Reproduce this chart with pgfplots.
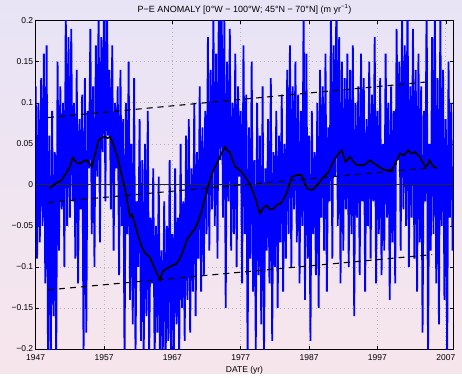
\documentclass[border=0pt]{standalone}
\usepackage{fontspec}
\setmainfont{Liberation Sans}
\usepackage{pgfplots}
\usepackage{pgfplotstable}
\pgfplotsset{compat=1.18}
\definecolor{bgtop}{RGB}{232,228,246}
\definecolor{bgbot}{RGB}{247,229,236}
\definecolor{mblue}{RGB}{0,0,255}
\pgfplotstableread{
v
0.12
-0.09
0.10
-0.07
0.13
-0.05
0.16
-0.12
0.17
-0.21
0.06
-0.23
0.09
-0.16
0.04
-0.22
0.15
-0.08
0.12
-0.03
0.10
-0.10
0.21
-0.05
0.18
-0.04
0.19
-0.02
0.10
-0.09
0.14
-0.12
0.08
-0.03
0.11
-0.21
0.13
-0.18
0.09
0.02
0.19
-0.06
0.12
-0.10
0.17
0.01
0.21
-0.07
0.18
0.04
0.22
-0.02
0.25
0.06
0.14
-0.03
0.17
-0.08
0.10
0.02
0.12
-0.11
0.14
-0.05
0.08
-0.22
0.10
-0.06
0.15
-0.14
0.05
-0.17
0.13
-0.21
-0.02
-0.10
0.08
-0.19
0.03
-0.22
0.05
-0.16
0.09
-0.21
-0.04
-0.12
0.02
-0.22
-0.05
-0.18
0.01
-0.24
-0.08
-0.20
-0.02
-0.23
-0.05
-0.19
0.03
-0.21
-0.06
-0.22
0.02
-0.17
-0.04
-0.21
0.05
-0.15
-0.02
-0.19
0.06
-0.14
0.08
-0.18
0.02
-0.13
0.10
-0.16
0.04
-0.09
0.12
-0.13
0.07
-0.11
0.09
-0.06
0.18
-0.08
0.14
-0.03
0.21
-0.05
0.16
-0.09
0.24
0.03
0.23
-0.04
0.20
-0.15
0.15
-0.02
0.19
-0.08
0.10
-0.06
0.16
-0.10
0.12
0.01
0.09
-0.12
0.17
-0.06
0.11
-0.21
0.07
-0.09
0.15
-0.13
0.03
-0.20
0.10
-0.11
0.06
-0.17
0.12
-0.21
0.02
-0.08
0.08
-0.12
0.13
-0.19
0.04
-0.10
0.09
-0.15
0.06
-0.07
0.11
-0.13
0.05
-0.09
0.14
-0.06
0.17
-0.10
0.12
-0.03
0.15
-0.07
0.11
-0.12
0.09
-0.05
0.22
-0.14
0.16
-0.09
0.06
-0.19
0.09
-0.06
0.04
-0.11
0.10
-0.15
0.14
-0.04
0.12
-0.08
0.16
-0.13
0.07
-0.02
0.21
-0.09
0.17
0.01
0.24
-0.05
0.18
-0.12
0.15
-0.08
0.13
-0.03
0.16
-0.10
0.14
-0.06
0.17
-0.16
0.10
-0.04
0.12
-0.11
0.16
-0.02
0.13
-0.13
0.08
-0.05
0.15
-0.09
0.11
-0.02
0.18
-0.12
0.09
-0.06
0.13
-0.11
0.05
-0.08
0.16
-0.04
0.10
-0.14
0.12
-0.07
0.09
-0.12
0.19
0.03
0.15
-0.08
0.21
-0.03
0.17
-0.05
0.24
-0.10
0.12
-0.04
0.19
-0.09
0.14
-0.13
0.16
-0.07
0.12
-0.18
0.09
-0.02
0.23
-0.21
0.05
-0.08
0.18
-0.06
0.22
-0.12
0.13
-0.17
0.21
-0.05
0.14
-0.14
0.08
-0.22
0.15
-0.04
0.10
-0.08
}\anom
\pgfplotstableread{
x y
1949.0 -0.0044
1949.5 -0.001
1950.0 0.002
1950.8 0.0057
1951.5 0.015
1952.0 0.022
1952.4 0.033
1953.0 0.027
1953.5 0.026
1954.0 0.029
1954.5 0.030
1955.2 0.022
1955.7 0.038
1956.2 0.0545
1956.6 0.057
1957.1 0.0585
1957.5 0.057
1957.9 0.0585
1958.4 0.048
1958.9 0.036
1959.5 0.015
1960.1 -0.0065
1960.8 -0.039
1961.1 -0.036
1961.5 -0.047
1962.0 -0.062
1962.5 -0.0756
1963.0 -0.083
1963.7 -0.088
1964.2 -0.098
1964.7 -0.107
1965.2 -0.116
1965.6 -0.105
1966.2 -0.102
1966.8 -0.099
1967.6 -0.096
1968.1 -0.090
1968.6 -0.080
1969.1 -0.067
1969.7 -0.060
1970.3 -0.053
1970.8 -0.044
1971.3 -0.031
1971.9 -0.012
1972.5 0.006
1973.0 0.018
1973.5 0.026
1974.1 0.037
1974.7 0.046
1975.0 0.042
1975.4 0.040
1975.8 0.030
1976.2 0.022
1977.1 0.016
1977.8 0.008
1978.4 -0.0004
1979.1 -0.015
1979.8 -0.035
1980.3 -0.028
1980.8 -0.025
1981.3 -0.030
1981.8 -0.029
1982.3 -0.024
1982.8 -0.023
1983.2 -0.018
1983.7 -0.0105
1984.1 0.000
1984.5 0.0098
1985.2 0.012
1985.9 0.012
1986.3 0.003
1986.7 -0.0044
1987.4 -0.0065
1987.9 -0.003
1988.4 0.0017
1989.1 0.0098
1989.8 0.015
1990.3 0.024
1990.8 0.032
1991.3 0.038
1991.8 0.042
1992.3 0.028
1993.0 0.034
1993.5 0.028
1994.0 0.024
1994.9 0.024
1995.4 0.026
1995.9 0.030
1996.5 0.026
1997.2 0.022
1998.1 0.018
1999.1 0.018
1999.7 0.028
2000.3 0.038
2000.9 0.036
2001.5 0.042
2002.0 0.038
2002.5 0.040
2003.2 0.034
2004.0 0.022
2004.3 0.024
2004.6 0.030
2005.1 0.023
2005.7 0.020
}\smooth
\begin{document}
\begin{tikzpicture}
\shade[top color=bgtop,bottom color=bgbot] (-35.7pt,-24pt) rectangle (426.3pt,349pt);
\begin{axis}[
  scale only axis, width=417.6pt, height=328.3pt,
  at={(0pt,0pt)}, anchor=south west,
  xmin=1947, xmax=2008.1, ymin=-0.2, ymax=0.2,
  xtick={1947,1957,1967,1977,1987,1997,2007},
  xticklabels={1947,1957,1967,1977,1987,1997,2007},
  ytick={-0.2,-0.15,-0.1,-0.05,0,0.05,0.1,0.15,0.2},
  yticklabels={−0.2,−0.15,−0.1,−0.05,0,0.05,0.1,0.15,0.2},
  grid=major, grid style={dash pattern=on 0.6pt off 3.4pt, gray!60, line width=0.6pt},
  axis line style={black, line width=0.8pt},
  tick style={black, line width=0.5pt}, major tick length=3pt,
  tick align=inside,
  ticklabel style={font=\fontsize{8.5}{9}\selectfont},
  xticklabel style={yshift=-2pt},
  yticklabel style={xshift=1pt},
  title={P−E ANOMALY [0°W − 100°W; 45°N − 70°N] (m yr\textsuperscript{−1})},
  title style={font=\fontsize{9}{10}\selectfont, yshift=-3pt},
  xlabel={DATE (yr)},
  xlabel style={font=\fontsize{8.5}{9}\selectfont, yshift=1pt},
  clip=true,
]
\addplot[mblue, line width=1.8pt, line join=miter, miter limit=2] table[x expr=1947+0.2*\coordindex, y=v] {\anom};
\addplot[black!85, line width=1pt] coordinates {(1947,0) (2008.1,0)};
\addplot[black, line width=1.1pt, dash pattern=on 6pt off 5pt] coordinates {(1948.8,0.082) (2005,0.126)};
\addplot[black, line width=1.1pt, dash pattern=on 6pt off 5pt] coordinates {(1948.8,-0.0215) (2005,0.021)};
\addplot[black, line width=1.1pt, dash pattern=on 6pt off 5pt] coordinates {(1948.8,-0.128) (2005,-0.085)};
\addplot[black, line width=1.7pt] table[x=x, y=y] {\smooth};
\end{axis}
\end{tikzpicture}
\end{document}
